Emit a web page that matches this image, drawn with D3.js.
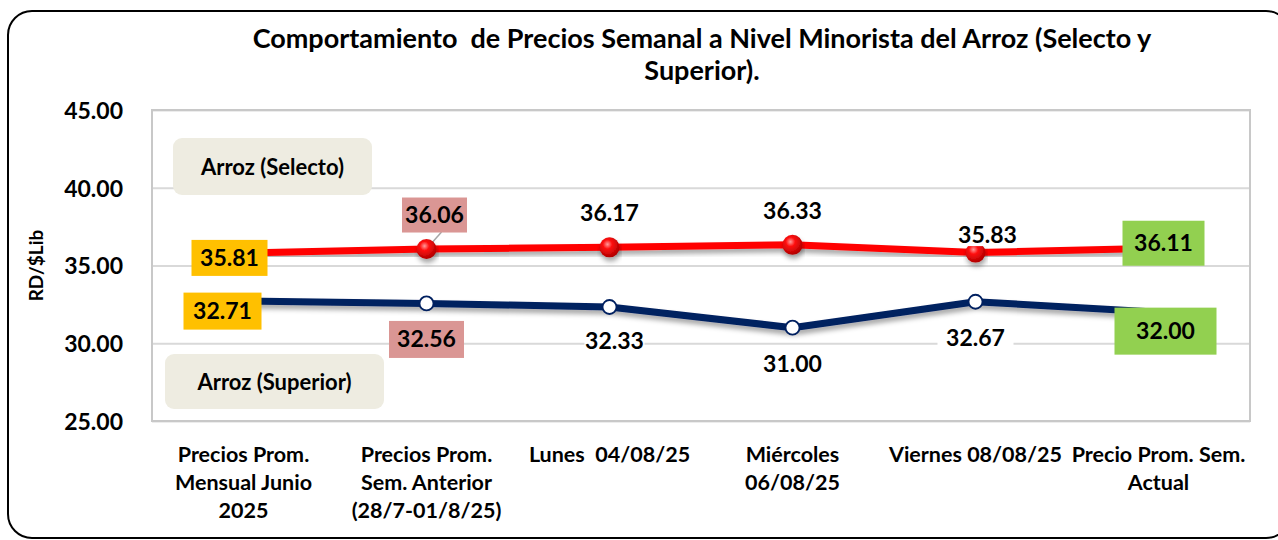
<!DOCTYPE html>
<html>
<head>
<meta charset="utf-8"/>
<script src="https://cdn.jsdelivr.net/npm/d3@7"></script>
<style>
  body { margin: 0; background: #fff; }
  text { font-family: Lato, "Open Sans", sans-serif; font-weight: bold; fill: #000; white-space: pre; }
</style>
</head>
<body>
<script>

var categories = [
  ["Precios Prom.", "Mensual Junio", "2025"],
  ["Precios Prom.", "Sem. Anterior", "(28/7-01/8/25)"],
  ["Lunes  04/08/25"],
  ["Miércoles", "06/08/25"],
  ["Viernes 08/08/25"],
  ["Precio Prom. Sem.", "Actual"]
];
var selecto = [35.81, 36.06, 36.17, 36.33, 35.83, 36.11];
var superior = [32.71, 32.56, 32.33, 31.00, 32.67, 32.00];
var yTicks = [25, 30, 35, 40, 45];
var title = ["Comportamiento  de Precios Semanal a Nivel Minorista del Arroz (Selecto y", "Superior)."];

var W = 1278, H = 540;
var m = {left: 152, right: 28, top: 110, bottom: 119};

var svg = d3.select("body").append("svg")
  .attr("width", W)
  .attr("height", H);

var defs = svg.append("defs");
var shadow = defs.append("filter").attr("id", "shadow")
  .attr("x", "-10%").attr("y", "-50%").attr("width", "120%").attr("height", "200%");
shadow.append("feDropShadow")
  .attr("dx", 1).attr("dy", 4).attr("stdDeviation", 2.5)
  .attr("flood-color", "#000").attr("flood-opacity", 0.35);

var ball = defs.append("radialGradient").attr("id", "ball")
  .attr("cx", "40%").attr("cy", "35%").attr("r", "65%");
ball.append("stop").attr("offset", "0%").attr("stop-color", "#ff9a9a");
ball.append("stop").attr("offset", "35%").attr("stop-color", "#ff1010");
ball.append("stop").attr("offset", "100%").attr("stop-color", "#b00000");

// outer frame
svg.append("rect")
  .attr("x", 8).attr("y", 11)
  .attr("width", 1282).attr("height", 527)
  .attr("rx", 24)
  .attr("fill", "none")
  .attr("stroke", "#000")
  .attr("stroke-width", 2);

// title
svg.append("g").selectAll("text").data(title).join("text")
  .attr("x", 702)
  .attr("y", function(d, i) { return 48 + i * 32; })
  .attr("text-anchor", "middle")
  .style("font-size", "27px")
  .text(function(d) { return d; });

var x = d3.scalePoint()
  .domain(d3.range(categories.length))
  .range([m.left, W - m.right])
  .padding(0.5);

var y = d3.scaleLinear()
  .domain([25, 45])
  .range([H - m.bottom, m.top]);

var plot = svg.append("g");

plot.append("g")
  .attr("class", "grid")
  .attr("transform", "translate(" + m.left + ",0)")
  .call(d3.axisLeft(y).tickValues(yTicks).tickSize(-(W - m.left - m.right)).tickFormat(""))
  .call(function(g) {
    g.select(".domain").remove();
    g.selectAll("line").attr("stroke", "#d9d9d9").attr("stroke-width", 2);
  });

plot.append("rect")
  .attr("x", m.left).attr("y", m.top)
  .attr("width", W - m.left - m.right)
  .attr("height", H - m.top - m.bottom)
  .attr("fill", "none")
  .attr("stroke", "#c8c8c8")
  .attr("stroke-width", 2);

// y tick labels
svg.append("g")
  .attr("transform", "translate(" + 123 + ",0)")
  .call(d3.axisLeft(y).tickValues(yTicks).tickSize(0).tickPadding(0).tickFormat(d3.format(".2f")))
  .call(function(g) {
    g.select(".domain").remove();
    g.selectAll("text")
      .attr("dy", "0.36em")
      .style("font-size", "23px")
      .style("font-family", "Lato, sans-serif")
      .attr("fill", "#000");
  });

svg.append("text")
  .attr("transform", "translate(43," + (H - m.bottom + m.top) / 2 + ") rotate(-90)")
  .attr("text-anchor", "middle")
  .style("font-size", "19px")
  .text("RD/$Lib");

// x labels
var xl = svg.append("g").selectAll("text").data(categories).join("text")
  .attr("text-anchor", "middle")
  .style("font-size", "21.5px")
  .attr("y", 462);
xl.each(function(d, i) {
  d3.select(this).selectAll("tspan").data(d).join("tspan")
    .attr("x", x(i))
    .attr("dy", function(t, j) { return j === 0 ? 0 : 28; })
    .text(function(t) { return t; });
});

// legend-like name boxes
var names = [
  {t: "Arroz (Selecto)", x: 173, y: 138, w: 199, h: 57},
  {t: "Arroz (Superior)", x: 165, y: 354, w: 219, h: 55}
];
var nb = svg.append("g").selectAll("g").data(names).join("g");
nb.append("rect")
  .attr("x", function(d) { return d.x; })
  .attr("y", function(d) { return d.y; })
  .attr("width", function(d) { return d.w; })
  .attr("height", function(d) { return d.h; })
  .attr("rx", 9)
  .attr("fill", "#eeece1");
nb.append("text")
  .attr("x", function(d) { return d.x + d.w / 2; })
  .attr("y", function(d) { return d.y + d.h / 2 + 8; })
  .attr("text-anchor", "middle")
  .style("font-size", "22px")
  .text(function(d) { return d.t; });

var line = d3.line()
  .x(function(d, i) { return x(i); })
  .y(function(d) { return y(d); });

svg.append("path").datum(superior)
  .attr("d", line)
  .attr("fill", "none")
  .attr("stroke", "#002060")
  .attr("stroke-width", 7)
  .attr("stroke-linejoin", "round")
  .attr("filter", "url(#shadow)");

svg.append("path").datum(selecto)
  .attr("d", line)
  .attr("fill", "none")
  .attr("stroke", "#ff0000")
  .attr("stroke-width", 7)
  .attr("stroke-linejoin", "round")
  .attr("filter", "url(#shadow)");

// markers (inner points only)
var inner = d3.range(1, categories.length - 1);
svg.append("g").selectAll("circle").data(inner).join("circle")
  .attr("cx", function(i) { return x(i); })
  .attr("cy", function(i) { return y(superior[i]); })
  .attr("r", 7)
  .attr("fill", "#fff")
  .attr("stroke", "#002060")
  .attr("stroke-width", 1.8);

// leader line for the 36.06 label
svg.append("line")
  .attr("x1", x(1)).attr("y1", y(selecto[1]))
  .attr("x2", x(1) + 15).attr("y2", y(selecto[1]) - 17)
  .attr("stroke", "#a6a6a6").attr("stroke-width", 1.5);

svg.append("g").selectAll("circle").data(inner).join("circle")
  .attr("cx", function(i) { return x(i); })
  .attr("cy", function(i) { return y(selecto[i]); })
  .attr("r", 10)
  .attr("fill", "url(#ball)")
  .attr("filter", "url(#shadow)");

// data labels: offsets relative to point, box size and fill
var fmt = d3.format(".2f");
var selLabels = [
  {dx: -14, dy: 5, w: 76, h: 36, fill: "#ffc000"},
  {dx: 8, dy: -34, w: 65, h: 35, fill: "#da9694"},
  {dx: 0, dy: -34, w: 0, h: 0, fill: "none"},
  {dx: 0, dy: -34, w: 0, h: 0, fill: "none"},
  {dx: 12, dy: -18, w: 75, h: 23, fill: "#fff"},
  {dx: 5, dy: -5, w: 82, h: 45, fill: "#92d050"}
];
var supLabels = [
  {dx: -21, dy: 10, w: 78, h: 37, fill: "#ffc000"},
  {dx: 0, dy: 36, w: 75, h: 37, fill: "#da9694"},
  {dx: 5, dy: 34, w: 60, h: 32, fill: "#fff"},
  {dx: 0, dy: 36, w: 76, h: 30, fill: "#fff"},
  {dx: 0, dy: 36, w: 76, h: 30, fill: "#fff"},
  {dx: 7, dy: 19, w: 102, h: 47, fill: "#92d050"}
];

function drawLabels(vals, opts) {
  var g = svg.append("g").selectAll("g").data(vals).join("g")
    .attr("transform", function(d, i) {
      return "translate(" + (x(i) + opts[i].dx) + "," + (y(d) + opts[i].dy) + ")";
    });
  g.append("rect")
    .attr("x", function(d, i) { return -opts[i].w / 2; })
    .attr("y", function(d, i) { return -opts[i].h / 2; })
    .attr("width", function(d, i) { return opts[i].w; })
    .attr("height", function(d, i) { return opts[i].h; })
    .attr("fill", function(d, i) { return opts[i].fill; });
  g.append("text")
    .attr("text-anchor", "middle")
    .attr("y", 8)
    .style("font-size", "23px")
    .text(function(d) { return fmt(d); });
}
drawLabels(selecto, selLabels);
drawLabels(superior, supLabels);

</script>
</body>
</html>
